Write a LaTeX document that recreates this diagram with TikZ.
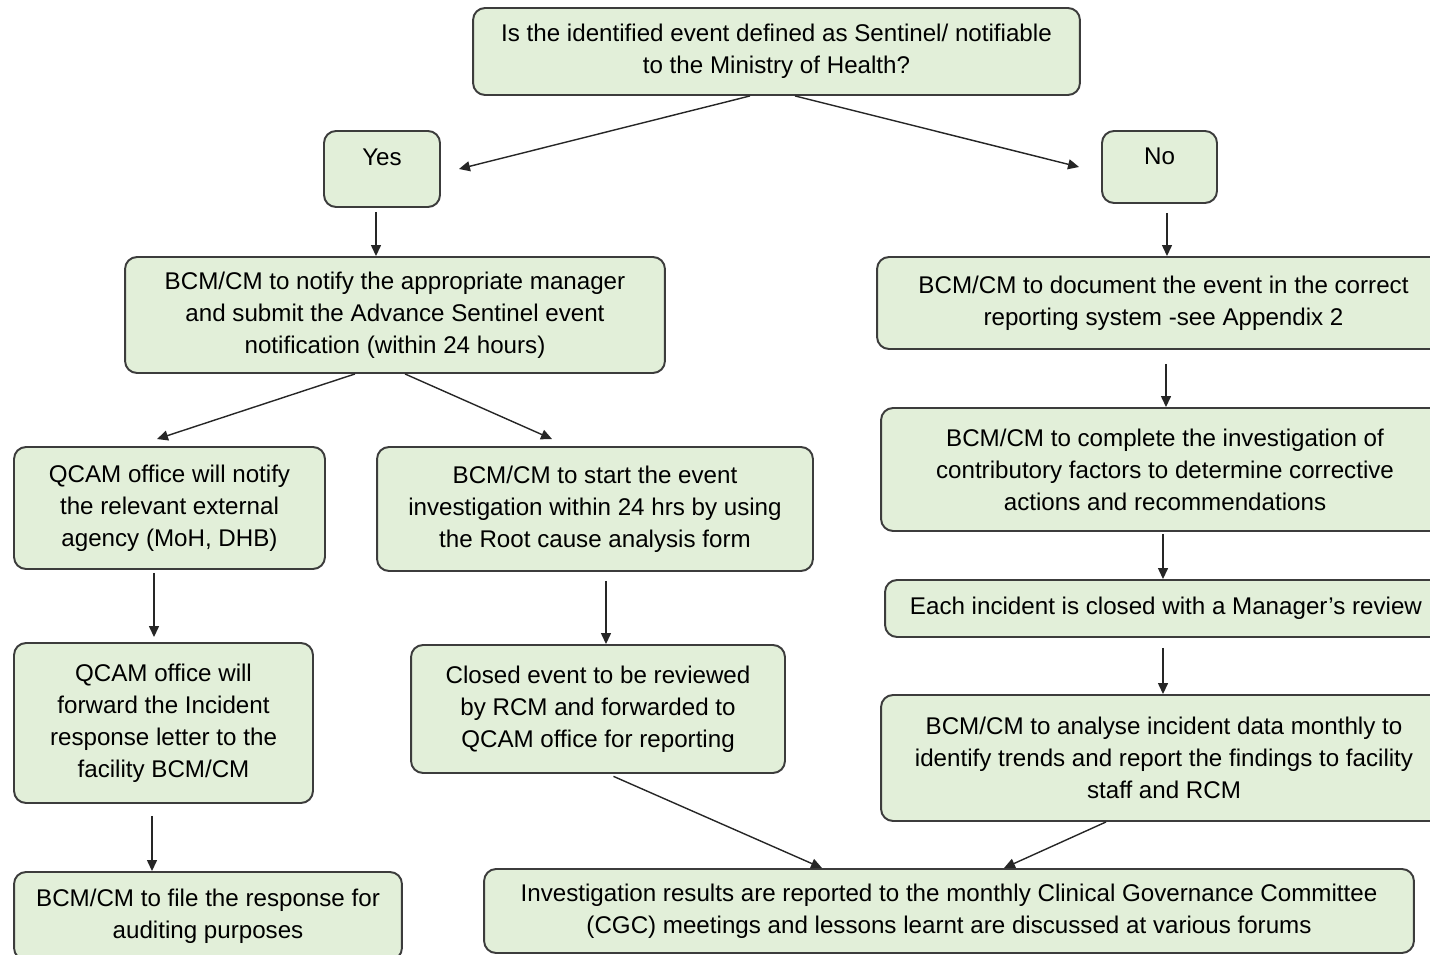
\documentclass[tikz,border=0pt]{standalone}
\usepackage{fontspec}
\setmainfont{Liberation Sans}
\usepackage{tikz}
\usetikzlibrary{calc, positioning, arrows.meta}
\usepackage{xcolor}
\definecolor{boxfill}{RGB}{226, 239, 217}
\definecolor{boxline}{RGB}{60, 60, 60}

\begin{document}
\begin{tikzpicture}[x=0.02cm, y=-0.02cm,
  font=\fontsize{13.75pt}{18.2pt}\selectfont,
  box/.style={draw=boxline, fill=boxfill, line width=1.1pt, rounded corners=0.24cm,
    align=center, inner sep=0.1cm},
  arr/.style={draw=black!85, line width=0.8pt, -{Triangle[length=0.22cm, width=0.2cm]}}]
  % page frame
  \clip (0,0) rectangle (1430,955);

  % Question
  \node[box, minimum width=12.14cm, minimum height=1.74cm] (ask) at (776.5,51.5)
    {Is the identified event defined as Sentinel/ notifiable\\to the Ministry of Health?};
  \node[box, minimum width=2.32cm, minimum height=1.52cm, text height=0.34cm, text depth=0.48cm, inner ysep=0.35cm] (yes) at (382,169) {Yes};
  \node[box, minimum width=2.30cm, minimum height=1.44cm, text height=0.34cm, text depth=0.44cm, inner ysep=0.33cm] (no) at (1159.5,167) {No};

  % Sentinel branch
  \node[box, minimum width=10.8cm, minimum height=2.32cm] (notify) at (395,315)
    {BCM/CM to notify the appropriate manager\\and submit the Advance Sentinel event\\notification (within 24 hours)};
  \node[box, minimum width=6.22cm, minimum height=2.44cm] (agency) at (169.5,508)
    {QCAM office will notify\\the relevant external\\agency (MoH, DHB)};
  \node[box, minimum width=8.72cm, minimum height=2.48cm] (rca) at (595,509)
    {BCM/CM to start the event\\investigation within 24 hrs by using\\the Root cause analysis form};
  \node[box, minimum width=5.98cm, minimum height=3.2cm] (letter) at (163.5,723)
    {QCAM office will\\forward the Incident\\response letter to the\\facility BCM/CM};
  \node[box, minimum width=7.48cm, minimum height=2.56cm] (review) at (598,709)
    {Closed event to be reviewed\\by RCM and forwarded to\\QCAM office for reporting};
  \node[box, minimum width=7.76cm, minimum height=1.76cm] (file) at (208,916)
    {BCM/CM to file the response for\\auditing purposes};

  % Non sentinel branch
  \node[box, minimum width=11.46cm, minimum height=1.84cm] (document) at (1163.5,303)
    {BCM/CM to document the event in the correct\\reporting system -see Appendix 2};
  \node[box, minimum width=11.36cm, minimum height=2.46cm] (factors) at (1165,469.5)
    {BCM/CM to complete the investigation of\\contributory factors to determine corrective\\actions and recommendations};
  \node[box, minimum width=11.24cm, minimum height=1.14cm] (closed) at (1166,608.5)
    {Each incident is closed with a Manager's review};
  \node[box, minimum width=11.32cm, minimum height=2.52cm] (trends) at (1164,758)
    {BCM/CM to analyse incident data monthly to\\identify trends and report the findings to facility\\staff and RCM};

  % Reporting
  \node[box, minimum width=18.6cm, minimum height=1.68cm] (cgc) at (949,911)
    {Investigation results are reported to the monthly Clinical Governance Committee\\(CGC) meetings and lessons learnt are discussed at various forums};

  % Arrows
  \draw[arr] ([xshift=-0.53cm]ask.south) -- ([xshift=0.36cm]yes.east);
  \draw[arr] ([xshift=0.37cm]ask.south) -- ([xshift=-0.44cm]no.west);
  \draw[arr, shorten <=0.08cm] ([xshift=-0.12cm]yes.south) -- ([xshift=-0.12cm]yes.south |- notify.north);
  \draw[arr, shorten <=0.18cm] ([xshift=0.15cm]no.south) -- ([xshift=0.15cm]no.south |- document.north);
  \draw[arr] ([xshift=-0.8cm]notify.south) -- ([xshift=-0.25cm, yshift=0.14cm]agency.north);
  \draw[arr] ([xshift=0.2cm]notify.south) -- ([xshift=-0.86cm, yshift=0.14cm]rca.north);
  \draw[arr, shorten <=0.28cm] ([xshift=0.05cm]document.south) -- ([xshift=0.05cm]document.south |- factors.north);
  \draw[arr, shorten <=0.06cm, shorten >=0.1cm] ([xshift=-0.31cm]agency.south) -- ([xshift=-0.31cm]agency.south |- letter.north);
  \draw[arr, shorten <=0.18cm] ([xshift=0.22cm]rca.south) -- ([xshift=0.22cm]rca.south |- review.north);
  \draw[arr, shorten <=0.04cm] ([xshift=-0.04cm]factors.south) -- ([xshift=-0.04cm]factors.south |- closed.north);
  \draw[arr, shorten <=0.2cm] ([xshift=-0.06cm]closed.south) -- ([xshift=-0.06cm]closed.south |- trends.north);
  \draw[arr, shorten <=0.24cm] ([xshift=-0.23cm]letter.south) -- ([xshift=-0.23cm]letter.south |- file.north);
  \draw[arr, shorten <=0.12cm] ([xshift=0.2cm]review.south) -- ([xshift=-2.54cm]cgc.north);
  \draw[arr] ([xshift=-1.16cm]trends.south) -- ([xshift=1.1cm]cgc.north);
\end{tikzpicture}
\end{document}
